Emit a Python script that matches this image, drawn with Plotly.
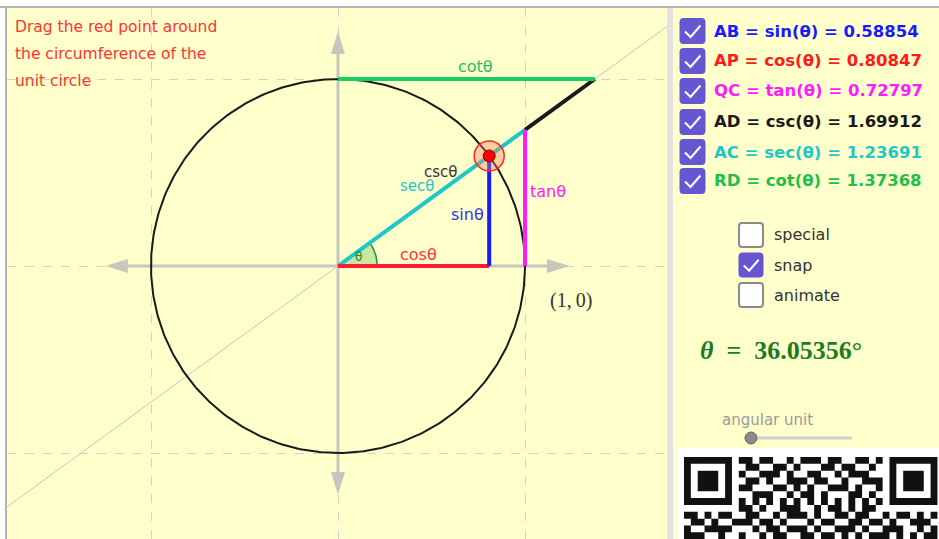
import numpy as np
import plotly.graph_objects as go

# ---------------- data ----------------
theta_deg = 36.05356
func_labels = ["AB = sin(θ)", "AP = cos(θ)", "QC = tan(θ)", "AD = csc(θ)", "AC = sec(θ)", "RD = cot(θ)"]
func_values = [0.58854, 0.80847, 0.72797, 1.69912, 1.23691, 1.37368]
func_colors = ["#1a1aff", "#ff1a1a", "#ff1aff", "#1a1a1a", "#1ec8c8", "#1fbf4a"]
plot_labels = ["cotθ", "cscθ", "secθ", "sinθ", "cosθ", "tanθ", "θ"]
option_labels = ["special", "snap", "animate"]
option_checked = [False, True, False]
instruction_lines = ["Drag the red point around", "the circumference of the", "unit circle"]
qr_finder = ["1111111", "1000001", "1011101", "1011101", "1011101", "1000001", "1111111"]
qr_mid = ["110110010111011001101", "011001101000110110010", "100111010011001011100",
          "011010011101100100111", "110001101010011101001", "001110010110100011010",
          "101010101010101010101", "110100111001011010110", "011001011101001101100",
          "110110100010110011011", "001011011101001110100", "100101100110110101011"]
qr_left = ["00000000", "11010110", "01101001", "10011110", "11100100"]
qr_right = ["00000000", "10110101", "01001110", "11100101", "10101011"]

sin_v, cos_v, tan_v, csc_v, sec_v, cot_v = func_values

# ---------------- layout constants ----------------
W, H = 939, 539
UNIT, OX, OY = 187.0, 338.0, 266.0
XL, XR, YT, YB = 7, 667, 8, 539
xr = [(XL - OX) / UNIT, (XR - OX) / UNIT]
yr = [(OY - YB) / UNIT, (OY - YT) / UNIT]
BG = "#ffffcc"
AXC = "#c6c6bc"
SANS = "DejaVu Sans, Liberation Sans, Arial"
SERIF = "Liberation Serif, DejaVu Serif, serif"

def px(x):
    return x / W

def py(y):
    return 1 - y / H

fig = go.Figure()

def seg(x, y, color, width):
    fig.add_trace(go.Scatter(x=x, y=y, mode="lines", line=dict(color=color, width=width),
                             hoverinfo="skip", showlegend=False))

# thin gray line through origin
seg([xr[0], xr[1]], [xr[0] * tan_v, xr[1] * tan_v], "#c4c4c4", 1)

# axes with arrowheads
ax_ext = dict(xp=1.23, xn=-1.235, yp=1.246, yn=-1.214)
hl, hw = 0.11, 0.034
seg([ax_ext["xn"] + hl, ax_ext["xp"] - hl], [0, 0], AXC, 3)
seg([0, 0], [ax_ext["yn"] + hl, ax_ext["yp"] - hl], AXC, 3)
for tip, d, horiz in [(ax_ext["xp"], 1, True), (ax_ext["xn"], -1, True),
                      (ax_ext["yp"], 1, False), (ax_ext["yn"], -1, False)]:
    b = tip - d * hl
    if horiz:
        xs, ys = [tip, b, b, tip], [0, hw, -hw, 0]
    else:
        xs, ys = [0, hw, -hw, 0], [tip, b, b, tip]
    fig.add_trace(go.Scatter(x=xs, y=ys, mode="lines", fill="toself", fillcolor=AXC,
                             line=dict(color=AXC, width=1), hoverinfo="skip", showlegend=False))

# unit circle
t = np.linspace(0, 2 * np.pi, 400)
seg(np.cos(t), np.sin(t), "#1a1a1a", 2)

# angle sector
th = np.radians(theta_deg)
ta = np.linspace(0, th, 40)
r_ang = 0.21
fig.add_trace(go.Scatter(x=np.concatenate([[0], r_ang * np.cos(ta), [0]]),
                         y=np.concatenate([[0], r_ang * np.sin(ta), [0]]),
                         mode="lines", fill="toself", fillcolor="rgba(0,150,0,0.22)",
                         line=dict(color="#2e8b2e", width=1.5), hoverinfo="skip", showlegend=False))

# trig segments
seg([1, cot_v], [tan_v, 1], func_colors[3], 4)     # csc (black, visible part C->D)
seg([0, 1], [0, tan_v], func_colors[4], 4)         # sec (cyan)
seg([0, cot_v], [1, 1], "#19cc66", 4)              # cot (green)
seg([0, cos_v], [0, 0], "#ff1a33", 4)              # cos (red)
seg([cos_v, cos_v], [0, sin_v], "#1a1aff", 4)      # sin (blue)
seg([1, 1], [0, tan_v], "#ff1aff", 4)              # tan (magenta)

# point P with halo
fig.add_trace(go.Scatter(x=[cos_v], y=[sin_v], mode="markers",
                         marker=dict(size=30, color="rgba(255,130,100,0.38)", line=dict(color="#ff2222", width=1.5)),
                         hoverinfo="skip", showlegend=False))
fig.add_trace(go.Scatter(x=[cos_v], y=[sin_v], mode="markers",
                         marker=dict(size=12, color="#ff0000", line=dict(color="#880000", width=1)),
                         hoverinfo="skip", showlegend=False))

ann = []
lab_pos = [(0.733, 1.066, "#22c060", 16), (0.551, 0.503, "#333333", 15), (0.425, 0.427, "#1ec8c8", 15),
           (0.695, 0.273, "#3333ee", 16), (0.428, 0.062, "#ff3344", 16), (1.123, 0.396, "#ff1aff", 16),
           (0.112, 0.046, "#2e7d2e", 12)]
for lab, (x, y, c, s) in zip(plot_labels, lab_pos):
    ann.append(dict(x=x, y=y, xref="x", yref="y", text=lab, showarrow=False,
                    font=dict(family=SANS, size=s, color=c)))
ann.append(dict(x=1.246, y=-0.182, xref="x", yref="y", text="(1,&#8201;0)", showarrow=False,
                font=dict(family=SERIF, size=20, color="#333333")))

# instruction text
for i, line in enumerate(instruction_lines):
    ann.append(dict(x=px(13), y=py(27 + 27 * i), xref="paper", yref="paper", xanchor="left", yanchor="middle",
                    text=line, showarrow=False,
                    font=dict(family=SANS, size=15.5, color="#ff3333")))

shapes = []
shapes.append(dict(type="rect", xref="paper", yref="paper", x0=px(673), x1=1, y0=0, y1=py(8),
                   fillcolor=BG, line=dict(width=0), layer="below"))
shapes.append(dict(type="rect", xref="paper", yref="paper", x0=px(667), x1=px(673), y0=0, y1=py(8),
                   fillcolor="#e2e2e2", line=dict(width=0), layer="below"))
shapes.append(dict(type="line", xref="paper", yref="paper", x0=0, x1=1, y0=py(7), y1=py(7),
                   line=dict(color="#b4b4b4", width=2)))
shapes.append(dict(type="line", xref="paper", yref="paper", x0=px(6), x1=px(6), y0=0, y1=py(7),
                   line=dict(color="#b4b4b4", width=2)))


def rrect(x0, y0, x1, y1, r):
    return (f"M{px(x0 + r)},{py(y0)} L{px(x1 - r)},{py(y0)} Q{px(x1)},{py(y0)} {px(x1)},{py(y0 + r)} "
            f"L{px(x1)},{py(y1 - r)} Q{px(x1)},{py(y1)} {px(x1 - r)},{py(y1)} "
            f"L{px(x0 + r)},{py(y1)} Q{px(x0)},{py(y1)} {px(x0)},{py(y1 - r)} "
            f"L{px(x0)},{py(y0 + r)} Q{px(x0)},{py(y0)} {px(x0 + r)},{py(y0)} Z")


def checkbox(x0, yc, size, checked):
    y0, y1 = yc - size / 2, yc + size / 2
    x1 = x0 + size
    if checked:
        shapes.append(dict(type="path", xref="paper", yref="paper", path=rrect(x0, y0, x1, y1, 3),
                           fillcolor="#6557d2", line=dict(color="#6557d2", width=1)))
        p = (f"M{px(x0 + 0.2 * size)},{py(y0 + 0.52 * size)} L{px(x0 + 0.42 * size)},{py(y0 + 0.74 * size)} "
             f"L{px(x0 + 0.82 * size)},{py(y0 + 0.28 * size)}")
        shapes.append(dict(type="path", xref="paper", yref="paper", path=p,
                           fillcolor="rgba(0,0,0,0)", line=dict(color="white", width=2)))
    else:
        shapes.append(dict(type="path", xref="paper", yref="paper", path=rrect(x0, y0, x1, y1, 3),
                           fillcolor="white", line=dict(color="#8a8a8a", width=2)))


row_y = [31, 61, 91, 122, 152, 181]
for lab, val, col, yc in zip(func_labels, func_values, func_colors, row_y):
    checkbox(680, yc, 25, True)
    ann.append(dict(x=px(712), y=py(yc), xref="paper", yref="paper", xanchor="left", yanchor="middle",
                    text=f"<b>{lab} = {val:.5f}</b>", showarrow=False,
                    font=dict(family=SANS, size=16.5, color=col)))

opt_y = [235, 265, 295]
for lab, chk, yc in zip(option_labels, option_checked, opt_y):
    checkbox(739, yc, 24, chk)
    ann.append(dict(x=px(772), y=py(yc), xref="paper", yref="paper", xanchor="left", yanchor="middle",
                    text=lab, showarrow=False,
                    font=dict(family=SANS, size=16, color="#333333")))

ann.append(dict(x=px(698), y=py(350), xref="paper", yref="paper", xanchor="left", yanchor="middle",
                text=f"<b><i>θ</i>&nbsp;&nbsp;=&nbsp;&nbsp;{theta_deg:.5f}°</b>", showarrow=False,
                font=dict(family=SERIF, size=26, color="#1e7b1e")))

ann.append(dict(x=px(767), y=py(420), xref="paper", yref="paper", xanchor="center", yanchor="middle",
                text="angular unit", showarrow=False,
                font=dict(family=SANS, size=15, color="#9a9a9a")))
shapes.append(dict(type="line", xref="paper", yref="paper", x0=px(748), x1=px(852), y0=py(438), y1=py(438),
                   line=dict(color="#cfcfcf", width=3)))
shapes.append(dict(type="circle", xref="paper", yref="paper", x0=px(745), x1=px(757), y0=py(432), y1=py(444),
                   fillcolor="#8a8a8a", line=dict(color="#666666", width=1)))

# QR code
shapes.append(dict(type="rect", xref="paper", yref="paper", x0=px(677), x1=1, y0=0, y1=py(448),
                   fillcolor="white", line=dict(width=0)))
qr_rows = []
for r in range(len(qr_mid)):
    if r < 7:
        qr_rows.append(qr_finder[r] + "0" + qr_mid[r] + "0" + qr_finder[r])
    else:
        qr_rows.append(qr_left[r - 7] + qr_mid[r] + qr_right[r - 7])
m, qx, qy = 6.85, 684.0, 457.0
path = ""
for r, row in enumerate(qr_rows):
    y0 = qy + r * m
    if y0 >= H:
        break
    y1 = min(y0 + m, H)
    for c, ch in enumerate(row):
        if ch == "1":
            x0 = qx + c * m
            x1 = x0 + m
            path += f"M{px(x0)},{py(y0)} L{px(x1)},{py(y0)} L{px(x1)},{py(y1)} L{px(x0)},{py(y1)} Z "
shapes.append(dict(type="path", xref="paper", yref="paper", path=path, fillcolor="#111111",
                   line=dict(width=0)))

fig.update_layout(
    width=W, height=H, margin=dict(l=0, r=0, t=0, b=0),
    paper_bgcolor="white", plot_bgcolor=BG,
    xaxis=dict(domain=[px(XL), px(XR)], range=xr, dtick=1, tick0=0, showgrid=True,
               gridcolor="#d2d2c8", griddash="dash", gridwidth=1, zeroline=False,
               showticklabels=False, ticks="", fixedrange=True, showline=False),
    yaxis=dict(domain=[0, py(YT)], range=yr, dtick=1, tick0=0, showgrid=True,
               gridcolor="#d2d2c8", griddash="dash", gridwidth=1, zeroline=False,
               showticklabels=False, ticks="", fixedrange=True, showline=False),
    annotations=ann, shapes=shapes, showlegend=False,
)

fig.write_html("out.html", config={"displayModeBar": False},
               post_script="document.body.style.margin='0px';document.body.style.overflow='hidden';")
